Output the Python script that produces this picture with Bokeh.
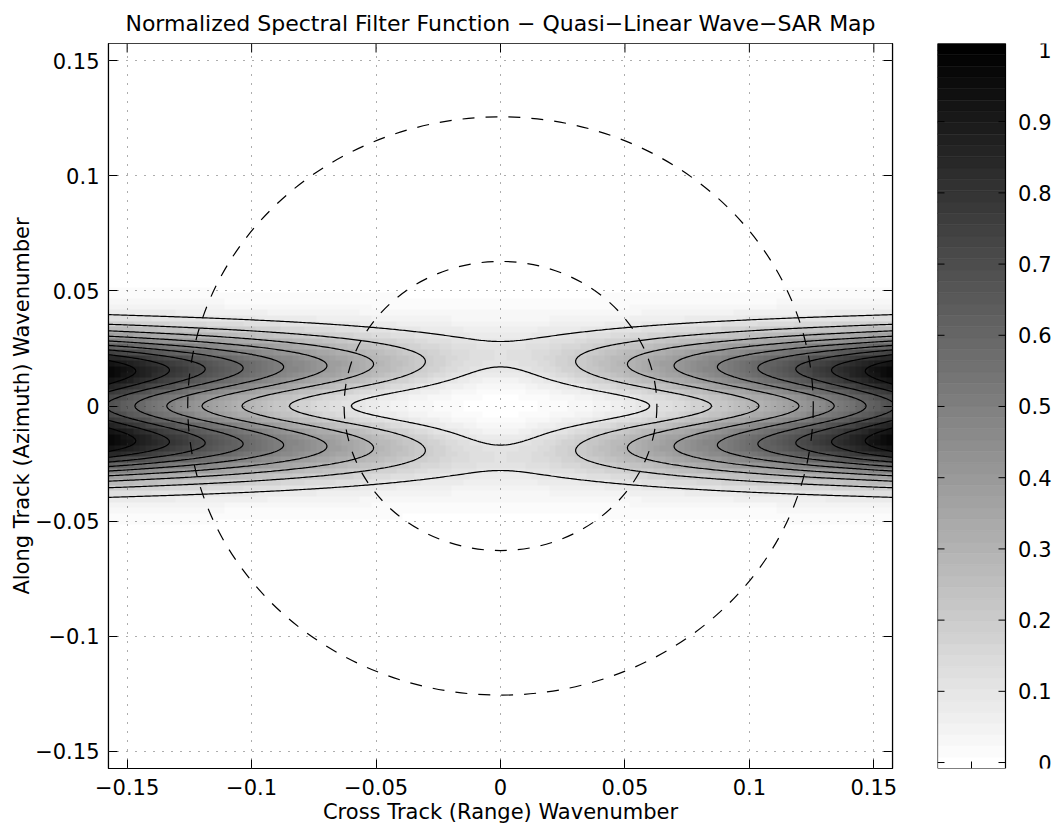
import numpy as np
from bokeh.plotting import figure
from bokeh.layouts import row
from bokeh.models import Range1d, LinearAxis, FixedTicker, LinearColorMapper
from bokeh.core.properties import value
from bokeh.embed import file_html
from bokeh.resources import INLINE

# ---------------- text ----------------
TITLE = "Normalized Spectral Filter Function \u2212 Quasi\u2212Linear Wave\u2212SAR Map"
X_LABEL = "Cross Track (Range) Wavenumber"
Y_LABEL = "Along Track (Azimuth) Wavenumber"

# ---------------- data / model parameters ----------------
K_LIMIT = 0.1575            # axis limits (both axes)
N_CELLS = 128               # image cells per axis
TILT_GAIN = 27.8            # range (tilt) term: F(kx, 0) = TILT_GAIN * kx^2
VB_GAIN = 25380.0           # velocity-bunching term gain
VB_EXPONENT = 0.85          # wavenumber exponent of velocity-bunching term
AZ_CUTOFF = 53.6            # azimuth cut-off length  exp(-(xi*ky)^2)
CONTOUR_LEVELS = [0.1, 0.2, 0.3, 0.4, 0.5, 0.6, 0.7, 0.8, 0.9]
CIRCLE_WAVELENGTHS = [50.0, 100.0]   # dashed reference circles, k = 2*pi/lambda
AXIS_TICKS = [-0.15, -0.1, -0.05, 0, 0.05, 0.1, 0.15]
AXIS_TICK_LABELS = ["\u22120.15", "\u22120.1", "\u22120.05", "0", "0.05", "0.1", "0.15"]
CBAR_TICKS = [0, 0.1, 0.2, 0.3, 0.4, 0.5, 0.6, 0.7, 0.8, 0.9, 1.0]
CBAR_TICK_LABELS = ["0", "0.1", "0.2", "0.3", "0.4", "0.5", "0.6", "0.7", "0.8", "0.9", "1"]
CLIM = [-0.0084, 1.0098]
N_COLORS = 64

FONT = "DejaVu Sans"
FS = "21px"
TITLE_FS = "22px"
FRAME_W, FRAME_H = 784, 725
TICK_PX = 9


def spectral_filter(kx, ky):
    k = np.hypot(kx, ky)
    return (TILT_GAIN * kx ** 2 + VB_GAIN * ky ** 2 * k ** VB_EXPONENT) * np.exp(-(AZ_CUTOFF * ky) ** 2)


edges = np.linspace(-K_LIMIT, K_LIMIT, N_CELLS + 1)
centers = 0.5 * (edges[:-1] + edges[1:])
KX, KY = np.meshgrid(centers, centers)
Z = spectral_filter(KX, KY)

kc = np.linspace(-K_LIMIT, K_LIMIT, 401)
KXc, KYc = np.meshgrid(kc, kc)
Zc = spectral_filter(KXc, KYc)

PALETTE = []
for i in range(N_COLORS):
    v = int(round(255 * (1 - i / (N_COLORS - 1))))
    PALETTE.append("#%02x%02x%02x" % (v, v, v))
mapper = LinearColorMapper(palette=PALETTE, low=CLIM[0], high=CLIM[1])

# ---------------- main figure ----------------
p = figure(frame_width=FRAME_W, frame_height=FRAME_H,
           min_border_left=108, min_border_right=45, min_border_top=43, min_border_bottom=65,
           x_range=Range1d(-K_LIMIT, K_LIMIT), y_range=Range1d(-K_LIMIT, K_LIMIT),
           output_backend="svg", toolbar_location=None, title=TITLE)
p.title.text_font = FONT
p.title.text_font_size = TITLE_FS
p.title.text_font_style = "normal"
p.title.text_color = "black"
p.title.align = "center"
p.title.standoff = 15
p.outline_line_color = "black"
p.outline_line_width = 1.2
p.background_fill_color = "white"
p.border_fill_color = "white"

p.image(image=[Z], x=-K_LIMIT, y=-K_LIMIT, dw=2 * K_LIMIT, dh=2 * K_LIMIT, color_mapper=mapper)
p.contour(kc, kc, Zc, levels=CONTOUR_LEVELS, line_color="black", line_width=1.2)

radii = [2 * np.pi / lam for lam in CIRCLE_WAVELENGTHS]
p.ellipse(x=[0.0] * len(radii), y=[0.0] * len(radii),
          width=[2 * r for r in radii], height=[2 * r for r in radii],
          fill_color=None, line_color="black", line_width=1.2, line_dash="12 11")

# inward ticks along the top edge of the box
tick_dy = TICK_PX * 2 * K_LIMIT / FRAME_H
p.segment(x0=AXIS_TICKS, x1=AXIS_TICKS, y0=[K_LIMIT] * len(AXIS_TICKS),
          y1=[K_LIMIT - tick_dy] * len(AXIS_TICKS), line_color="black", line_width=1)

overrides = dict(zip(AXIS_TICKS, AXIS_TICK_LABELS))
blank = {t: "" for t in AXIS_TICKS}


def style_axis(ax, labels):
    ax.ticker = FixedTicker(ticks=AXIS_TICKS)
    ax.major_label_overrides = labels
    ax.major_tick_in = TICK_PX
    ax.major_tick_out = 0
    ax.minor_tick_line_color = None
    ax.major_tick_line_color = "black"
    ax.axis_line_color = "black"
    ax.axis_line_width = 1.2
    ax.major_label_text_font = FONT
    ax.major_label_text_font_size = FS
    ax.major_label_text_color = "black"
    ax.axis_label_text_font = FONT
    ax.axis_label_text_font_size = FS
    ax.axis_label_text_font_style = "normal"
    ax.axis_label_text_color = "black"


style_axis(p.xaxis[0], overrides)
style_axis(p.yaxis[0], overrides)
p.xaxis[0].axis_label = X_LABEL
p.yaxis[0].axis_label = Y_LABEL
p.xaxis[0].major_label_standoff = 10
p.yaxis[0].major_label_standoff = 9
p.xaxis[0].axis_label_standoff = 2
p.yaxis[0].axis_label_standoff = -2

right_ax = LinearAxis()
style_axis(right_ax, blank)
right_ax.major_label_standoff = 0
p.add_layout(right_ax, "right")

for g in (p.xgrid[0], p.ygrid[0]):
    g.ticker = FixedTicker(ticks=AXIS_TICKS)
    g.grid_line_color = "#333333"
    g.grid_line_alpha = 0.8
    g.grid_line_dash = "1 8"
    g.grid_line_width = 1
    g.level = "overlay"

# ---------------- colorbar figure ----------------
CB_W = 121
BAR_W = 68
cb = figure(frame_width=CB_W, frame_height=FRAME_H,
            min_border_left=0, min_border_right=0, min_border_top=43, min_border_bottom=65,
            x_range=Range1d(0, CB_W), y_range=Range1d(CLIM[0], CLIM[1]),
            x_axis_location=None, y_axis_location=None,
            output_backend="svg", toolbar_location=None)
cb.outline_line_color = None
cb.grid.visible = False
cb.background_fill_color = "white"
cb.border_fill_color = "white"

band_edges = np.linspace(CLIM[0], CLIM[1], N_COLORS + 1)
cb.quad(left=0, right=BAR_W, bottom=band_edges[:-1], top=band_edges[1:],
        fill_color=PALETTE, line_color=PALETTE, line_width=0.6)
cb.quad(left=0, right=BAR_W, bottom=CLIM[0], top=CLIM[1],
        fill_color=None, line_color="black", line_width=1.2)
TICK_LEN = 7
cb.segment(x0=0, x1=TICK_LEN, y0=CBAR_TICKS, y1=CBAR_TICKS, line_color="black", line_width=1)
cb.segment(x0=BAR_W - TICK_LEN, x1=BAR_W, y0=CBAR_TICKS, y1=CBAR_TICKS, line_color="black", line_width=1)
dy = (CLIM[1] - CLIM[0]) / FRAME_H
cb.segment(x0=BAR_W / 2, x1=BAR_W / 2, y0=CLIM[0], y1=CLIM[0] + TICK_LEN * dy, line_color="black", line_width=1)
cb.text(x=114, y=CBAR_TICKS, text=CBAR_TICK_LABELS, text_align="right", text_baseline="middle",
        text_font=value(FONT), text_font_size=FS, text_color="black")

layout = row(p, cb)
open("out.html", "w").write(file_html(layout, INLINE))
